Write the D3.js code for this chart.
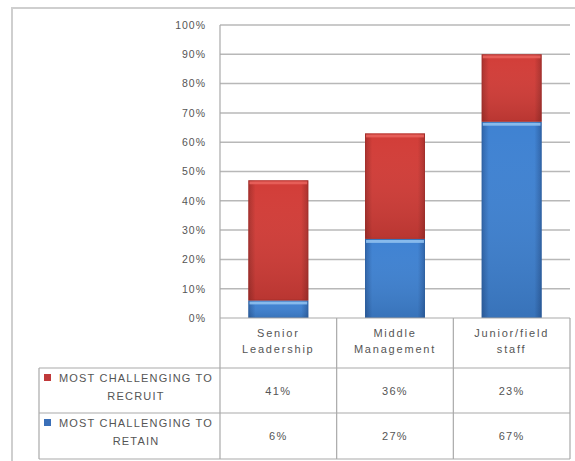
<!DOCTYPE html>
<html>
<head>
<meta charset="utf-8">
<script src="https://cdn.jsdelivr.net/npm/d3@7"></script>
<style>
  html, body { margin: 0; padding: 0; background: #fff; }
  svg { display: block; }
  text { font-family: "Liberation Sans", "DejaVu Sans", sans-serif; fill: #555; }
</style>
</head>
<body>
<svg id="chart" width="575" height="461"></svg>
<script>
// Staff levels and their two-line header labels
const categories = ["Senior Leadership", "Middle Management", "Junior/field staff"];
const categoryLines = [["Senior", "Leadership"], ["Middle", "Management"], ["Junior/field", "staff"]];

// Series shares (fractions of respondents)
const retain = [0.06, 0.27, 0.67];
const recruit = [0.41, 0.36, 0.23];

const seriesNames = ["MOST CHALLENGING TO RETAIN", "MOST CHALLENGING TO RECRUIT"];
const seriesLines = [["MOST CHALLENGING TO", "RETAIN"], ["MOST CHALLENGING TO", "RECRUIT"]];

// Y axis ticks
const yTicks = [0, 0.1, 0.2, 0.3, 0.4, 0.5, 0.6, 0.7, 0.8, 0.9, 1.0];

const svg = d3.select("#chart");
const W = 575, H = 461;

const plot = { left: 220, right: 570, top: 25, bottom: 318 };
const table = { legendLeft: 39, headerBottom: 368, rowMid: 413, bottom: 459 };

const x = d3.scaleBand()
  .domain(categories)
  .range([plot.left, plot.right])
  .paddingInner(0.486)
  .paddingOuter(0.243);

const y = d3.scaleLinear().domain([0, 1]).range([plot.bottom, plot.top]);

// Gradients for the Excel-style bars
const defs = svg.append("defs");
function barGradients(id, edge, mid) {
  const g = defs.append("linearGradient").attr("id", id)
    .attr("x1", "0").attr("x2", "1").attr("y1", "0").attr("y2", "0");
  g.append("stop").attr("offset", "0").attr("stop-color", edge);
  g.append("stop").attr("offset", "0.12").attr("stop-color", mid);
  g.append("stop").attr("offset", "0.88").attr("stop-color", mid);
  g.append("stop").attr("offset", "1").attr("stop-color", edge);
}
barGradients("gRed", "#a8302c", "#d23d38");
barGradients("gBlue", "#2e63a8", "#3f82d2");
const vshade = defs.append("linearGradient").attr("id", "vshade")
  .attr("x1", "0").attr("x2", "0").attr("y1", "0").attr("y2", "1");
vshade.append("stop").attr("offset", "0").attr("stop-color", "#fff").attr("stop-opacity", 0.0);
vshade.append("stop").attr("offset", "1").attr("stop-color", "#000").attr("stop-opacity", 0.12);

// Outer chart frame (only top and left edges fall inside the view)
svg.append("rect")
  .attr("x", 12).attr("y", 8).attr("width", W + 20).attr("height", H + 20)
  .attr("fill", "#fff").attr("stroke", "#cfcfcf").attr("stroke-width", 2);

// Gridlines
svg.append("g").selectAll("line").data(yTicks.filter(d => d > 0)).join("line")
  .attr("x1", plot.left).attr("x2", plot.right)
  .attr("y1", d => y(d)).attr("y2", d => y(d))
  .attr("stroke", "#b8b8b8").attr("stroke-width", 1.5);

// Y axis labels via d3 axis, domain path hidden
const yAxis = svg.append("g")
  .attr("transform", `translate(${plot.left - 14},0)`)
  .call(d3.axisLeft(y).tickValues(yTicks).tickFormat(d3.format(".0%")).tickSize(0).tickPadding(0));
yAxis.select(".domain").remove();
yAxis.selectAll("text")
  .style("font-family", "'Liberation Sans', sans-serif")
  .style("font-size", "10.5px")
  .style("letter-spacing", "1px")
  .attr("fill", "#5a5a5a");

// Stacked bars
const rows = categories.map((c, i) => ({ cat: c, retain: retain[i], recruit: recruit[i] }));
const stack = d3.stack().keys(["retain", "recruit"])(rows);
const fills = { retain: "url(#gBlue)", recruit: "url(#gRed)" };
const highlight = { retain: "#8fc0ee", recruit: "#e8625c" };
const strokeCol = { retain: "#2c5e9e", recruit: "#9c2b28" };

stack.forEach(layer => {
  const g = svg.append("g");
  layer.forEach(d => {
    const x0 = x(d.data.cat), bw = x.bandwidth();
    const yTop = y(d[1]), yBot = y(d[0]);
    g.append("rect")
      .attr("x", x0).attr("y", yTop).attr("width", bw).attr("height", yBot - yTop)
      .attr("fill", fills[layer.key]);
    g.append("rect")
      .attr("x", x0).attr("y", yTop).attr("width", bw).attr("height", yBot - yTop)
      .attr("fill", "url(#vshade)");
    g.append("rect")
      .attr("x", x0 + 1).attr("y", yTop + 1).attr("width", bw - 2).attr("height", 3)
      .attr("fill", highlight[layer.key]).attr("opacity", 0.9);
    g.append("rect")
      .attr("x", x0 + 0.5).attr("y", yTop + 0.5).attr("width", bw - 1).attr("height", yBot - yTop - 1)
      .attr("fill", "none").attr("stroke", strokeCol[layer.key]).attr("stroke-opacity", 0.5);
  });
});

// Data table grid
const gridCol = "#a9a9a9";
const tg = svg.append("g").attr("stroke", gridCol).attr("stroke-width", 1.2);
// vertical axis line through plot and table
tg.append("line").attr("x1", plot.left).attr("x2", plot.left).attr("y1", plot.top).attr("y2", table.bottom);
// category dividers
const dividers = categories.map(c => x(c) - x.step() * x.paddingInner() / 2).slice(1).concat([plot.right]);
tg.selectAll(".div").data(dividers).join("line")
  .attr("x1", d => d).attr("x2", d => d)
  .attr("y1", plot.bottom).attr("y2", table.bottom);
// horizontal lines
tg.append("line").attr("x1", plot.left).attr("x2", plot.right).attr("y1", plot.bottom).attr("y2", plot.bottom);
[table.headerBottom, table.rowMid, table.bottom].forEach(yy => {
  tg.append("line").attr("x1", table.legendLeft).attr("x2", plot.right).attr("y1", yy).attr("y2", yy);
});
tg.append("line").attr("x1", table.legendLeft).attr("x2", table.legendLeft)
  .attr("y1", table.headerBottom).attr("y2", table.bottom);

const textStyle = (sel, spacing) => sel
  .style("font-size", "11px")
  .style("letter-spacing", (spacing || 1.3) + "px")
  .attr("fill", "#505050");

// Header row: category names
categories.forEach((c, i) => {
  const cx = x(c) + x.bandwidth() / 2;
  categoryLines[i].forEach((line, j) => {
    svg.append("text")
      .attr("x", cx).attr("y", 337 + j * 16)
      .attr("text-anchor", "middle")
      .text(line)
      .call(textStyle, 1.8);
  });
});

// Table rows: recruit first, then retain
const tableRows = [
  { lines: seriesLines[1], values: recruit, color: "#c0393a", top: table.headerBottom, bottom: table.rowMid },
  { lines: seriesLines[0], values: retain, color: "#3a6fb8", top: table.rowMid, bottom: table.bottom }
];
tableRows.forEach(r => {
  const midY = (r.top + r.bottom) / 2;
  svg.append("rect")
    .attr("x", 44).attr("y", r.top + 6).attr("width", 7).attr("height", 7)
    .attr("fill", r.color);
  svg.append("text")
    .attr("x", 136).attr("y", r.top + 14)
    .attr("text-anchor", "middle")
    .text(r.lines[0]).call(textStyle, 1.2);
  svg.append("text")
    .attr("x", 136).attr("y", r.top + 32)
    .attr("text-anchor", "middle")
    .text(r.lines[1]).call(textStyle, 1.2);
  categories.forEach((c, i) => {
    svg.append("text")
      .attr("x", x(c) + x.bandwidth() / 2).attr("y", midY + 4)
      .attr("text-anchor", "middle")
      .text(d3.format(".0%")(r.values[i]))
      .call(textStyle, 1.3);
  });
});
</script>
</body>
</html>
